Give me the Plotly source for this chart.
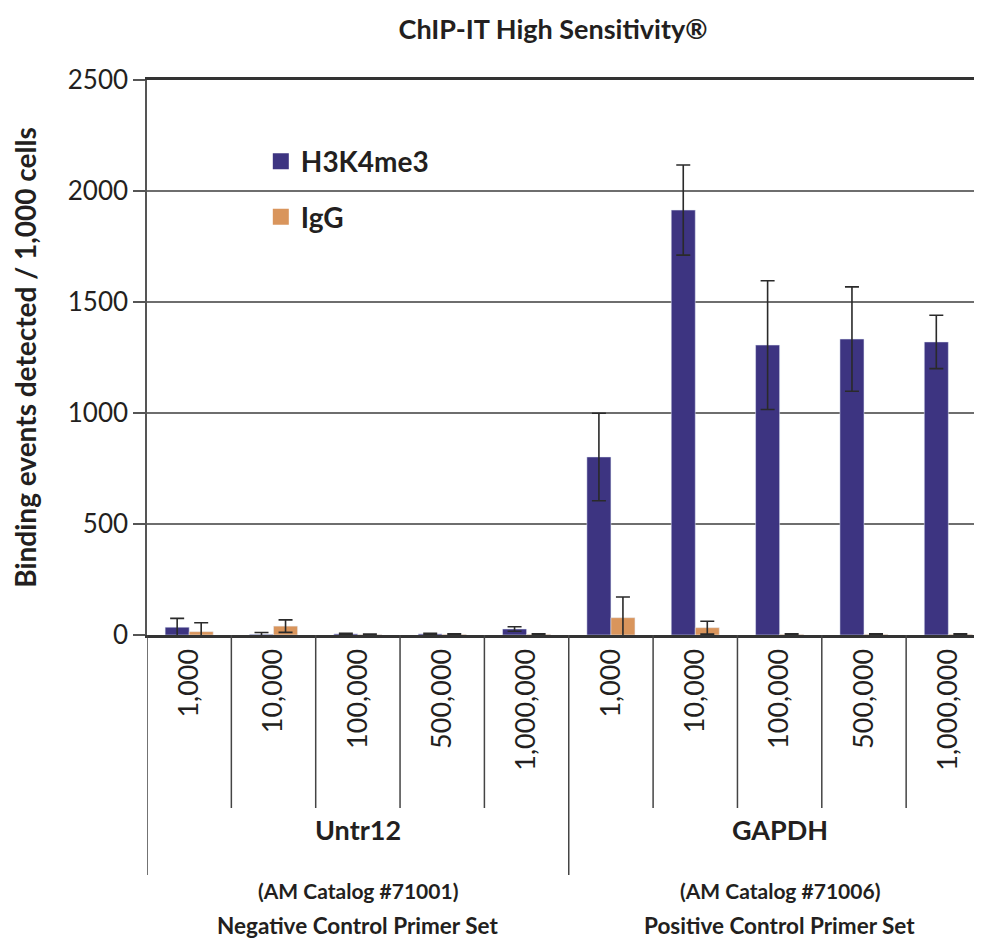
import plotly.graph_objects as go

doses = ["1,000", "10,000", "100,000", "500,000", "1,000,000",
         "1,000", "10,000", "100,000", "500,000", "1,000,000"]
groups = ["Untr12", "GAPDH"]
group_sub1 = ["(AM Catalog #71001)", "(AM Catalog #71006)"]
group_sub2 = ["Negative Control Primer Set", "Positive Control Primer Set"]

h3k4me3 = [35, 3, 5, 5, 27, 802, 1914, 1306, 1333, 1320]
h3k4me3_err = [40, 8, 3, 3, 10, 197, 203, 290, 235, 120]
igg = [15, 40, 2, 3, 3, 78, 33, 3, 3, 3]
igg_err = [40, 28, 2, 2, 2, 93, 29, 2, 2, 2]

PURPLE = "#3d3481"
ORANGE = "#d9955c"
DARK = "#231f20"
FONT = "Lato, Roboto, sans-serif"

x = list(range(len(doses)))

fig = go.Figure()
fig.add_trace(go.Bar(x=x, y=h3k4me3, name="H3K4me3", marker_color=PURPLE, showlegend=False,
                     error_y=dict(type="data", array=h3k4me3_err, color="#2a2a2a", thickness=1.6, width=7)))
fig.add_trace(go.Bar(x=x, y=igg, name="IgG", marker_color=ORANGE, showlegend=False,
                     error_y=dict(type="data", array=igg_err, color="#2a2a2a", thickness=1.6, width=7)))
# legend entries
fig.add_trace(go.Scatter(x=[None], y=[None], mode="markers", name="<b>H3K4me3</b>", legendgroup="a",
                         marker=dict(symbol="square", size=16, color=PURPLE)))
fig.add_trace(go.Scatter(x=[None], y=[None], mode="markers", name="<b>IgG</b>", legendgroup="b",
                         marker=dict(symbol="square", size=16, color=ORANGE)))

OFF = 8  # page body margin
W, H = 982, 939
ml, mr, mt = 147 - OFF, 0, 80 - OFF
plot_h = 555
mb = H - mt - plot_h

def py(p):
    # p is a window pixel row
    return (80 + plot_h - p) / plot_h

shapes = []
n = len(doses)
for i in range(n + 1):
    xb = i - 0.5
    long = (i % 5 == 0)
    shapes.append(dict(type="line", xref="x", yref="paper", x0=xb, x1=xb,
                       y0=0, y1=py(875 if long else 808),
                       line=dict(color="#444444", width=1.5)))

annotations = []
for gi, g in enumerate(groups):
    cx = gi * 5 + 2
    annotations.append(dict(x=cx, y=py(829), xref="x", yref="paper", text="<b>%s</b>" % g,
                            xanchor="center", yanchor="middle",
                            showarrow=False, font=dict(size=27, color=DARK, family=FONT)))
    annotations.append(dict(x=cx, y=py(890), xref="x", yref="paper", text="<b>%s</b>" % group_sub1[gi],
                            xanchor="center", yanchor="middle",
                            showarrow=False, font=dict(size=21, color=DARK, family=FONT)))
    annotations.append(dict(x=cx, y=py(925), xref="x", yref="paper", text="<b>%s</b>" % group_sub2[gi],
                            xanchor="center", yanchor="middle",
                            showarrow=False, font=dict(size=22.5, color=DARK, family=FONT)))

fig.update_layout(
    width=W, height=H,
    margin=dict(l=ml, r=mr, t=mt, b=mb),
    paper_bgcolor="white", plot_bgcolor="white",
    barmode="group", bargap=0.43, bargroupgap=0,
    title=dict(text="<b>ChIP-IT High Sensitivity®</b>", x=0.555, xanchor="center", y=(H - 30 + OFF) / H,
               yanchor="middle", font=dict(size=27, color=DARK, family=FONT)),
    font=dict(family=FONT, color=DARK),
    xaxis=dict(range=[-0.5, -0.5 + (W - ml - mr) / 84.35], tickvals=x, ticktext=doses, tickangle=-90,
               tickfont=dict(size=27, color=DARK, family=FONT), showgrid=False, zeroline=False,
               showline=True, linecolor="#333333", linewidth=3, mirror=True, ticks=""),
    yaxis=dict(range=[0, 2500], tickvals=[0, 500, 1000, 1500, 2000, 2500],
               tickfont=dict(size=26, color=DARK, family=FONT), showgrid=True, gridcolor="#6e6e6e",
               gridwidth=1.6, zeroline=False, showline=True, linecolor="#555555", linewidth=1.5,
               ticks="outside", ticklen=12, tickcolor="#555555", tickwidth=1.5,
               title=dict(text="<b>Binding events detected / 1,000 cells</b>", standoff=26,
                          font=dict(size=28, color=DARK, family=FONT))),
    legend=dict(x=0.135, y=0.898, xanchor="left", yanchor="top", bgcolor="rgba(0,0,0,0)",
                font=dict(size=28, color=DARK, family=FONT), tracegroupgap=16),
    shapes=shapes, annotations=annotations,
)

fig.write_html("out.html")
